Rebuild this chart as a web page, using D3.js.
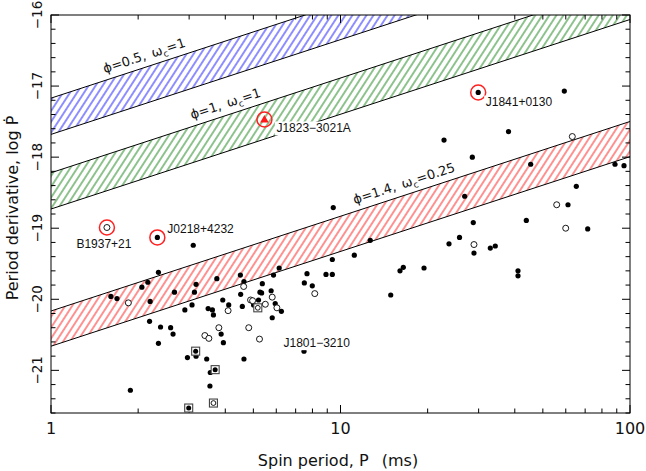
<!DOCTYPE html>
<html><head><meta charset="utf-8">
<script src="https://cdn.jsdelivr.net/npm/d3@7"></script>
<style>body{margin:0;background:#fff}svg{display:block}</style>
</head><body>
<svg id="c" width="646" height="471"></svg>
<script>
// ---------------- data ----------------
const filled = [
[3.10,-19.24],[2.35,-19.62],[2.16,-19.76],[2.06,-19.83],[1.61,-19.96],[1.69,-19.99],[2.20,-20.03],[2.67,-19.90],[3.17,-19.79],[3.13,-19.90],
[3.74,-19.71],[4.51,-19.66],[4.64,-19.75],[5.37,-19.78],[5.87,-19.66],[6.14,-19.56],[4.52,-19.93],[5.27,-19.90],[5.34,-19.91],[5.76,-19.88],
[3.92,-20.01],[4.11,-20.08],[4.58,-20.10],[5.21,-20.01],[5.01,-20.08],[5.95,-20.06],[5.81,-20.26],[2.90,-20.15],[3.07,-20.08],[3.49,-20.13],
[3.61,-20.15],[3.64,-20.22],[2.19,-20.31],[2.39,-20.39],[2.59,-20.40],[2.64,-20.49],[2.35,-20.62],[3.87,-20.49],[3.94,-20.61],[2.96,-20.82],
[3.17,-20.80],[3.45,-20.84],[3.55,-21.03],[3.54,-21.22],[4.64,-20.84],[1.88,-21.28],[9.44,-18.71],[12.67,-19.17],[11.16,-19.38],[9.37,-19.44],
[7.66,-19.64],[8.91,-19.65],[9.37,-19.65],[7.50,-19.77],[7.99,-19.81],[6.25,-20.17],[14.91,-19.94],[16.05,-19.60],[16.48,-19.55],[19.43,-19.56],
[23.70,-19.22],[25.77,-19.13],[26.85,-18.55],[65.24,-18.41],[61.07,-18.67],[28.75,-18.92],[43.84,-18.89],[28.91,-19.35],[32.92,-19.28],[34.25,-19.25],
[41.03,-19.60],[41.03,-19.67],[71.43,-19.01],[88.75,-18.10],[95.36,-18.12],[45.39,-18.10],[59.31,-17.07],[38.05,-17.64],[22.78,-17.76],[28.53,-18.00]
];
const openPts = [
[1.85,-20.05],[4.63,-19.82],[4.89,-20.01],[4.97,-20.02],[5.50,-20.07],[5.81,-19.97],[6.03,-20.12],[4.09,-20.16],[3.80,-20.40],[4.82,-20.40],
[5.25,-20.56],[3.40,-20.51],[3.51,-20.55],[8.15,-19.92],[55.82,-18.67],[59.97,-19.00],[28.91,-19.23],[63.20,-17.71]
];
const boxedFilled = [[3.16,-20.73],[3.69,-20.99],[2.99,-21.53]];
const boxedOpen = [[3.64,-21.46],[5.18,-20.12]];

const namedNames  = ["B1937+21","J0218+4232","J1823\u22123021A","J1841+0130","J1801\u22123210"];
const namedP      = [1.56, 2.33, 5.46, 29.9, 7.48];
const namedLogPd  = [-18.99, -19.13, -17.47, -17.09, -20.73];
const namedMarker = ["open","filled","triangle","filled","filled"];
const namedRing   = [true, true, true, true, false];

const bandPhi   = ["0.5","1","1.4"];
const bandOmega = ["1","1","0.25"];
const bandUpper = [-17.17, -18.22, -20.165];   // log Pdot at P = 1 ms
const bandLower = [-17.68, -18.73, -20.66];
const bandSlope = 4/3;
const bandLabelP = [1.56, 3.12, 11.4];

const xMajor = [1, 10, 100];
const xMinor = [2,3,4,5,6,7,8,9,20,30,40,50,60,70,80,90];
const yMajor = [-21,-20,-19,-18,-17,-16];
const yMinor = d3.range(-21.6, -15.99, 0.2).map(v => +v.toFixed(1)).filter(v => !yMajor.includes(v));

// ---------------- layout ----------------
const L = 51, R = 630, T = 15, B = 413;
const x = d3.scaleLog().domain([1,100]).range([L,R]);
const y = d3.scaleLinear().domain([-21.6,-16]).range([B,T]);
const bandColors = ["#1f1fff","#1c861c","#ff2424"];
const labelOffsets = [[-3,20,"middle"],[10,-4,"start"],[12,12.5,"start"],[7.5,13.5,"start"],[-20.5,-4.5,"start"]];

const svg = d3.select("#c");
const defs = svg.append("defs");
defs.append("clipPath").attr("id","plotclip").append("rect")
  .attr("x",L).attr("y",T).attr("width",R-L).attr("height",B-T);

bandColors.forEach((c,i)=>{
  const p = defs.append("pattern").attr("id","hatch"+i)
    .attr("patternUnits","userSpaceOnUse").attr("width",5.9).attr("height",20)
    .attr("patternTransform","rotate(33)");
  p.append("line").attr("x1",2.95).attr("y1",-1).attr("x2",2.95).attr("y2",21)
    .attr("stroke",c).attr("stroke-width",1);
});

const gBands = svg.append("g").attr("clip-path","url(#plotclip)");
const lineAt = (b0, P) => b0 + bandSlope*Math.log10(P);
bandPhi.forEach((phi,i)=>{
  const poly = [[1,bandUpper[i]],[100,lineAt(bandUpper[i],100)],[100,lineAt(bandLower[i],100)],[1,bandLower[i]]];
  gBands.append("path")
    .attr("d", d3.line().x(d=>x(d[0])).y(d=>y(d[1]))(poly)+"Z")
    .attr("fill","url(#hatch"+i+")").attr("stroke","none");
  [bandUpper[i], bandLower[i]].forEach(b0=>{
    gBands.append("line")
      .attr("x1",x(1)).attr("y1",y(b0)).attr("x2",x(100)).attr("y2",y(lineAt(b0,100)))
      .attr("stroke","#000").attr("stroke-width",1);
  });
});

// band labels
const pxSlope = (y(0)-y(bandSlope))/(x(10)-x(1));
const ang = Math.atan(pxSlope);
bandPhi.forEach((phi,i)=>{
  const P = bandLabelP[i];
  const px = x(P), py = y(lineAt(bandUpper[i],P));
  const off = 7;
  const tx = px - off*Math.sin(ang), ty = py - off*Math.cos(ang);
  const t = svg.append("text")
    .attr("transform",`translate(${tx},${ty}) rotate(${-ang*180/Math.PI})`)
    .attr("font-family","DejaVu Sans").attr("font-size",13).attr("fill","#111");
  t.append("tspan").text("\u03D5="+phi+",\u2002\u03C9");
  t.append("tspan").attr("dy",3.5).attr("font-size",9).text("c");
  t.append("tspan").attr("dy",-3.5).text("="+bandOmega[i]);
});

// frame + ticks
const gAx = svg.append("g").attr("stroke","#000").attr("stroke-width",1).attr("fill","none");
gAx.append("rect").attr("x",L).attr("y",T).attr("width",R-L).attr("height",B-T);
const tick = (x1,y1,x2,y2)=>gAx.append("line").attr("x1",x1).attr("y1",y1).attr("x2",x2).attr("y2",y2);
xMajor.forEach(v=>{ tick(x(v),B,x(v),B-8); tick(x(v),T,x(v),T+8); });
xMinor.forEach(v=>{ tick(x(v),B,x(v),B-4.5); tick(x(v),T,x(v),T+4.5); });
yMajor.forEach(v=>{ tick(L,y(v),L+8,y(v)); tick(R,y(v),R-8,y(v)); });
yMinor.forEach(v=>{ tick(L,y(v),L+4.5,y(v)); tick(R,y(v),R-4.5,y(v)); });

// tick labels
const fontAx = "DejaVu Sans";
xMajor.forEach(v=>{
  svg.append("text").attr("x",x(v)).attr("y",434).attr("text-anchor","middle")
    .attr("font-family",fontAx).attr("font-size",16).attr("fill","#111").text(v);
});
yMajor.forEach(v=>{
  svg.append("text").attr("transform",`translate(42,${y(v)}) rotate(-90)`).attr("text-anchor","middle")
    .attr("font-family",fontAx).attr("font-size",13.5).attr("fill","#111").text("\u2212"+Math.abs(v));
});
// axis titles
svg.append("text").attr("x",338).attr("y",466).attr("text-anchor","middle")
  .attr("font-family",fontAx).attr("font-size",16).attr("fill","#111")
  .text("Spin period, P\u2002 (ms)");
svg.append("text").attr("transform","translate(18,208) rotate(-90)").attr("text-anchor","middle")
  .attr("font-family",fontAx).attr("font-size",16).attr("fill","#111")
  .text("Period derivative, log \u1E56");

// points
const gP = svg.append("g").attr("clip-path","url(#plotclip)");
gP.selectAll(".f").data(filled).enter().append("circle")
  .attr("cx",d=>x(d[0])).attr("cy",d=>y(d[1])).attr("r",2.6).attr("fill","#000");
gP.selectAll(".o").data(openPts).enter().append("circle")
  .attr("cx",d=>x(d[0])).attr("cy",d=>y(d[1])).attr("r",3).attr("fill","#fff").attr("stroke","#000").attr("stroke-width",0.9);
[boxedFilled, boxedOpen].forEach((arr,k)=>{
  arr.forEach(d=>{
    gP.append("rect").attr("x",x(d[0])-4).attr("y",y(d[1])-4).attr("width",8).attr("height",8)
      .attr("fill","#fff").attr("stroke","#444").attr("stroke-width",1.1);
    gP.append("circle").attr("cx",x(d[0])).attr("cy",y(d[1])).attr("r",k===0?2.5:2.4)
      .attr("fill",k===0?"#000":"#fff").attr("stroke",k===0?"none":"#000").attr("stroke-width",0.9);
  });
});
const gLab = svg.append("g");
namedNames.forEach((nm,i)=>{
  const cx = x(namedP[i]), cy = y(namedLogPd[i]);
  if(namedMarker[i]==="filled") gP.append("circle").attr("cx",cx).attr("cy",cy).attr("r",2.6).attr("fill","#000");
  else if(namedMarker[i]==="open") gP.append("circle").attr("cx",cx).attr("cy",cy).attr("r",3).attr("fill","#fff").attr("stroke","#000").attr("stroke-width",0.9);
  else gP.append("path").attr("d",d3.symbol(d3.symbolTriangle,32)()).attr("transform",`translate(${cx},${cy+0.5})`).attr("fill","#ff1a1a");
  if(namedRing[i]) gP.append("circle").attr("cx",cx).attr("cy",cy).attr("r",7.5).attr("fill","none").attr("stroke","#ff2020").attr("stroke-width",1.5);
  const o = labelOffsets[i];
  const g = gLab.append("g");
  const bg = g.append("rect").attr("fill","#fff");
  const t = g.append("text").attr("x",cx+o[0]).attr("y",cy+o[1]).attr("text-anchor",o[2])
    .attr("font-family","Liberation Sans").attr("font-size",12).attr("fill","#111").text(nm);
  const bb = t.node().getBBox();
  bg.attr("x",bb.x-1.5).attr("y",bb.y+0.5).attr("width",bb.width+3).attr("height",bb.height);
});
</script>
</body></html>
